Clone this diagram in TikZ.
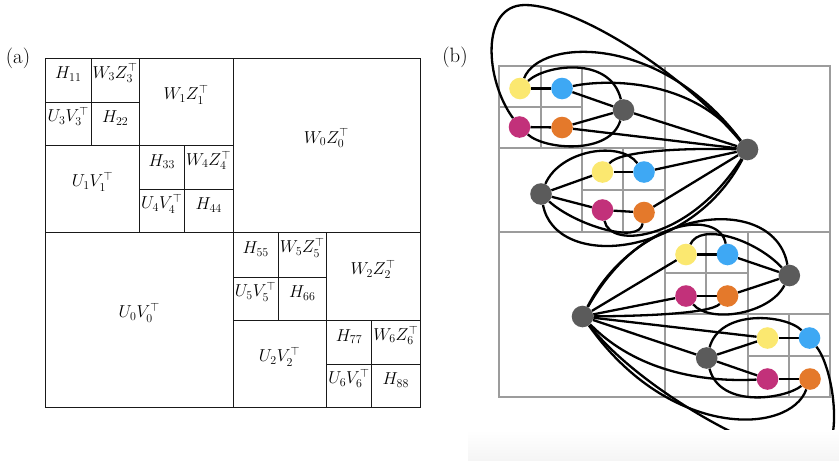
\documentclass[tikz,border=0pt]{standalone}
\usetikzlibrary{fit}
\definecolor{dotyellow}{HTML}{FBE870}
\definecolor{dotblue}{HTML}{3EA8F4}
\definecolor{dotmag}{HTML}{C2317A}
\definecolor{dotorange}{HTML}{E4792B}
\definecolor{dotgray}{HTML}{5B5B5B}
\definecolor{gridgray}{HTML}{9C9C9C}
\pgfdeclarelayer{bg}
\pgfsetlayers{bg,main}
\tikzset{
  cellst/.style={draw=black!90, line width=0.9pt, inner sep=0pt, font=\LARGE},
  dot/.style={circle, minimum size=21.6pt, inner sep=0pt, draw=none},
  yel/.style={dot, fill=dotyellow},
  blu/.style={dot, fill=dotblue},
  mag/.style={dot, fill=dotmag},
  ora/.style={dot, fill=dotorange},
  gry/.style={dot, fill=dotgray},
  lnk/.style={line width=2.3pt, black},
  gridln/.style={draw=gridgray, line width=2.6pt},
  panel/.style={font=\huge, inner sep=0pt}
}
\begin{document}
\begin{tikzpicture}[x=1pt,y=-1pt]
\useasboundingbox (0,0) rectangle (839,461);
% faint shadow at bottom of panel (b)
\fill[top color=white, bottom color=black!4, draw=none] (468,430) rectangle (839,461);

% ---------- panel labels ----------
\node[panel] (la) at (18,58) {(a)};
\node[panel] (lb) at (455,57) {(b)};

% ---------- panel (a) ----------
\node[cellst, fit={(45.7,58.3) (91,102)}] (h11) {$H_{11}$};
\node[cellst, fit={(91,58.3) (139.3,102)}] (w3) {$W_3Z_3^\top$};
\node[cellst, fit={(45.7,102) (91,145.7)}] (u3) {$U_3V_3^\top$};
\node[cellst, fit={(91,102) (139.3,145.7)}] (h22) {$H_{22}$};
\node[cellst, fit={(139.3,58.3) (233,145.7)}] (w1) {$W_1Z_1^\top$};
\node[cellst, fit={(45.7,145.7) (139.3,232.5)}] (u1) {$U_1V_1^\top$};
\node[cellst, fit={(139.3,145.7) (184.3,189.3)}] (h33) {$H_{33}$};
\node[cellst, fit={(184.3,145.7) (233,189.3)}] (w4) {$W_4Z_4^\top$};
\node[cellst, fit={(139.3,189.3) (184.3,232.5)}] (u4) {$U_4V_4^\top$};
\node[cellst, fit={(184.3,189.3) (233,232.5)}] (h44) {$H_{44}$};
\node[cellst, fit={(233,58.3) (420,232.5)}] (w0) {$W_0Z_0^\top$};
\node[cellst, fit={(45.7,232.5) (233,407.3)}] (u0) {$U_0V_0^\top$};
\node[cellst, fit={(233,232.5) (278.3,277.3)}] (h55) {$H_{55}$};
\node[cellst, fit={(278.3,232.5) (326.3,277.3)}] (w5) {$W_5Z_5^\top$};
\node[cellst, fit={(233,277.3) (278.3,320.7)}] (u5) {$U_5V_5^\top$};
\node[cellst, fit={(278.3,277.3) (326.3,320.7)}] (h66) {$H_{66}$};
\node[cellst, fit={(326.3,232.5) (420,320.7)}] (w2) {$W_2Z_2^\top$};
\node[cellst, fit={(233,320.7) (326.3,407.3)}] (u2) {$U_2V_2^\top$};
\node[cellst, fit={(326.3,320.7) (371.7,364.3)}] (h77) {$H_{77}$};
\node[cellst, fit={(371.7,320.7) (420,364.3)}] (w6) {$W_6Z_6^\top$};
\node[cellst, fit={(326.3,364.3) (371.7,407.3)}] (u6) {$U_6V_6^\top$};
\node[cellst, fit={(371.7,364.3) (420,407.3)}] (h88) {$H_{88}$};

% ---------- panel (b): nodes ----------
\node[yel] (y1) at (520,88.5) {};
\node[blu] (b1) at (562,88.5) {};
\node[mag] (m1) at (519.5,127) {};
\node[ora] (o1) at (562,127.5) {};
\node[gry] (g1) at (623.5,110) {};
\node[gry] (g2) at (541,194) {};
\node[yel] (y2) at (602.5,172) {};
\node[blu] (b2) at (644,172) {};
\node[mag] (m2) at (602.5,210) {};
\node[ora] (o2) at (644,212.5) {};
\node[gry] (g0) at (747.5,149.5) {};
\node[gry] (gz) at (582.5,316.5) {};
\node[yel] (y3) at (686,254.5) {};
\node[blu] (b3) at (727.5,254.5) {};
\node[mag] (m3) at (686,296) {};
\node[ora] (o3) at (727.5,296) {};
\node[gry] (g3) at (789.3,275.5) {};
\node[gry] (g4) at (706.7,358) {};
\node[yel] (y4) at (767.5,338) {};
\node[blu] (b4) at (809.5,338) {};
\node[mag] (m4) at (767.5,379) {};
\node[ora] (o4) at (810,379) {};

\begin{pgfonlayer}{bg}
% grid
\draw[gridln] (499,66) rectangle (830,397);
\draw[gridln] (665,66) -- (665,397);
\draw[gridln] (499,232) -- (830,232);
\draw[gridln] (582,66) -- (582,232);
\draw[gridln] (499,148) -- (665,148);
\draw[gridln] (541,66) -- (541,148);
\draw[gridln] (499,107) -- (582,107);
\draw[gridln] (623,148) -- (623,232);
\draw[gridln] (582,190) -- (665,190);
\draw[gridln] (748,232) -- (748,397);
\draw[gridln] (665,314) -- (830,314);
\draw[gridln] (706,232) -- (706,314);
\draw[gridln] (665,273) -- (748,273);
\draw[gridln] (789,314) -- (789,397);
\draw[gridln] (748,356) -- (830,356);

% leaf pairs
\draw[lnk] (y1) -- (b1);
\draw[lnk] (m1) -- (o1);
\draw[lnk] (y2) -- (b2);
\draw[lnk] (m2) -- (o2);
\draw[lnk] (y3) -- (b3);
\draw[lnk] (m3) -- (o3);
\draw[lnk] (y4) -- (b4);
\draw[lnk] (m4) -- (o4);
% g1
\draw[lnk] (g1) -- (b1);
\draw[lnk] (g1) -- (o1);
\draw[lnk] (y1) .. controls (545,65) and (610,55) .. (g1);
\draw[lnk] (m1) .. controls (545,150) and (610,155) .. (g1);
% g4
\draw[lnk] (g4) -- (y4);
\draw[lnk] (g4) -- (m4);
\draw[lnk] (b4) .. controls (785,314) and (720,309) .. (g4);
\draw[lnk] (o4) .. controls (785,399) and (720,409) .. (g4);
% g2
\draw[lnk] (g2) -- (y2);
\draw[lnk] (g2) -- (m2);
\draw[lnk] (g2) .. controls (560,150) and (620,140) .. (b2);
\draw[lnk] (g2) .. controls (575,225) and (640,245) .. (o2);
% g3
\draw[lnk] (g3) -- (b3);
\draw[lnk] (g3) -- (o3);
\draw[lnk] (g3) .. controls (770,314) and (710,324) .. (m3);
\draw[lnk] (g3) .. controls (755,239) and (700,222) .. (y3);
% g0
\draw[lnk] (g0) -- (g1);
\draw[lnk] (g0) -- (o1);
\draw[lnk] (g0) -- (b2);
\draw[lnk] (g0) -- (o2);
\draw[lnk] (b1) .. controls (600,80) and (690,75) .. (g0);
\draw[lnk] (y1) .. controls (540,38) and (660,33) .. (g0);
\draw[lnk] (m1) .. controls (485,80) and (480,5) .. (525,5) .. controls (575,5) and (680,70) .. (g0);
\draw[lnk] (y2) .. controls (620,150) and (690,148) .. (g0);
\draw[lnk] (m2) .. controls (610,250) and (690,240) .. (g0);
\draw[lnk] (g2) .. controls (555,270) and (690,260) .. (g0);
% gz
\draw[lnk] (gz) -- (g4);
\draw[lnk] (gz) -- (y4);
\draw[lnk] (gz) -- (y3);
\draw[lnk] (gz) -- (m3);
\draw[lnk] (gz) .. controls (630,365) and (690,383) .. (m4);
\draw[lnk] (o4) .. controls (790,435) and (670,440) .. (gz);
\draw[lnk] (b4) .. controls (835,370) and (845,455) .. (815,458) .. controls (770,462) and (640,390) .. (gz);
\draw[lnk] (o3) .. controls (710,314) and (640,316) .. (gz);
\draw[lnk] (b3) .. controls (720,210) and (640,215) .. (gz);
\draw[lnk] (g3) .. controls (775,194) and (640,204) .. (gz);
\end{pgfonlayer}
\end{tikzpicture}
\end{document}
